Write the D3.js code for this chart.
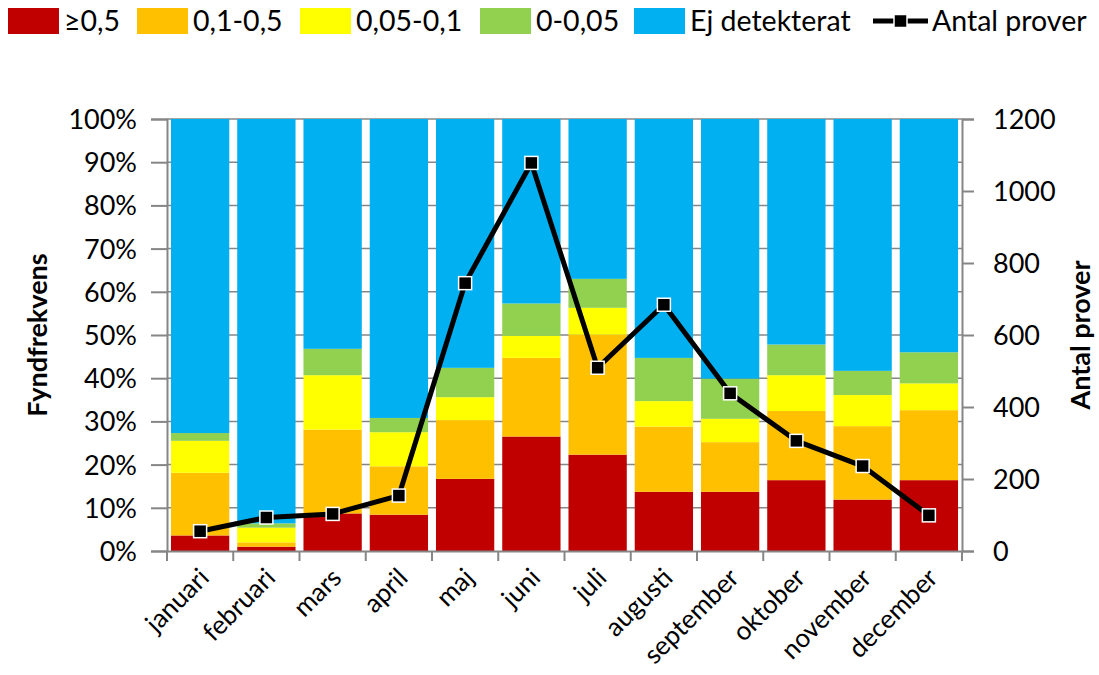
<!DOCTYPE html>
<html>
<head>
<meta charset="utf-8">
<script src="https://cdn.jsdelivr.net/npm/d3@7/dist/d3.min.js"></script>
<style>
  html, body { margin: 0; padding: 0; background: #fff; }
  svg { display: block; font-family: Lato, "Open Sans", sans-serif; }
</style>
</head>
<body>
<svg id="chart" width="1099" height="675"></svg>
<script>
// Months on the x axis
const months = ["januari","februari","mars","april","maj","juni","juli","augusti","september","oktober","november","december"];

// Share of samples per concentration class (%), bottom to top
const geHalf      = [3.6, 1.0, 8.7, 8.4, 16.7, 26.5, 22.3, 13.7, 13.7, 16.4, 11.9, 16.4];   // ≥0,5
const tenthToHalf = [14.5, 1.0, 19.4, 11.2, 13.6, 18.2, 27.8, 15.1, 11.5, 16.0, 17.0, 16.2]; // 0,1-0,5
const fiveToTenth = [7.4, 3.4, 12.6, 7.9, 5.3, 5.1, 6.2, 5.9, 5.4, 8.3, 7.2, 6.2];          // 0,05-0,1
const zeroToFive  = [1.8, 1.0, 6.1, 3.3, 6.8, 7.5, 6.7, 10.0, 9.3, 7.1, 5.6, 7.2];          // 0-0,05
const notDetected = months.map((m, i) => 100 - geHalf[i] - tenthToHalf[i] - fiveToTenth[i] - zeroToFive[i]); // Ej detekterat

// Number of samples per month (right axis)
const sampleCount = [55, 93, 103, 154, 744, 1078, 509, 684, 438, 306, 236, 99];

const seriesNames  = ["≥0,5", "0,1-0,5", "0,05-0,1", "0-0,05", "Ej detekterat"];
const seriesColors = ["#C00000", "#FFC000", "#FFFF00", "#92D050", "#00B0F0"];
const lineName = "Antal prover";

const leftTicks  = [0,10,20,30,40,50,60,70,80,90,100];
const rightTicks = [0,200,400,600,800,1000,1200];

const svg = d3.select("#chart");
const plotLeft = 167, plotRight = 962, plotTop = 119, plotBottom = 551;

const rows = months.map((m, i) => ({
  month: m,
  "≥0,5": geHalf[i],
  "0,1-0,5": tenthToHalf[i],
  "0,05-0,1": fiveToTenth[i],
  "0-0,05": zeroToFive[i],
  "Ej detekterat": notDetected[i]
}));

const x = d3.scaleBand().domain(months).range([plotLeft, plotRight]).paddingInner(0.12).paddingOuter(0.06);
const y = d3.scaleLinear().domain([0, 100]).range([plotBottom, plotTop]);
const y2 = d3.scaleLinear().domain([0, 1200]).range([plotBottom, plotTop]);
const color = d3.scaleOrdinal().domain(seriesNames).range(seriesColors);

const axisGray = "#868686";

// horizontal gridlines
svg.append("g").selectAll("line").data(leftTicks.slice(1)).join("line")
  .attr("x1", plotLeft).attr("x2", plotRight)
  .attr("y1", d => y(d)).attr("y2", d => y(d))
  .attr("stroke", axisGray).attr("stroke-width", 1.5);

// stacked bars
const stacked = d3.stack().keys(seriesNames)(rows);
svg.append("g").selectAll("g").data(stacked).join("g")
  .attr("fill", d => color(d.key))
  .selectAll("rect").data(d => d).join("rect")
  .attr("x", d => x(d.data.month))
  .attr("width", x.bandwidth())
  .attr("y", d => y(d[1]))
  .attr("height", d => y(d[0]) - y(d[1]));

// left axis
const yAxis = svg.append("g").attr("transform", `translate(${plotLeft},0)`)
  .call(d3.axisLeft(y).tickValues(leftTicks).tickFormat(d => d + "%").tickSize(16).tickPadding(14));
// right axis
const y2Axis = svg.append("g").attr("transform", `translate(${plotRight},0)`)
  .call(d3.axisRight(y2).tickValues(rightTicks).tickFormat(d3.format("d")).tickSize(12).tickPadding(19));
// bottom axis with ticks at category boundaries
const xAxis = svg.append("g").attr("transform", `translate(0,${plotBottom})`)
  .call(d3.axisBottom(x).tickSize(0).tickFormat(""));
const step = x.step();
const boundaries = d3.range(months.length + 1).map(i => plotLeft + i * step);
xAxis.selectAll(".bound").data(boundaries).join("line").attr("class", "bound")
  .attr("x1", d => d).attr("x2", d => d).attr("y1", 0).attr("y2", 10)
  .attr("stroke", axisGray).attr("stroke-width", 2);

[yAxis, y2Axis, xAxis].forEach(g => {
  g.selectAll(".domain").attr("stroke", axisGray).attr("stroke-width", 2);
  g.selectAll(".tick line").attr("stroke", axisGray).attr("stroke-width", 2);
  g.selectAll("text").attr("fill", "#000").style("font-size", "27px").style("font-family", "Lato, sans-serif");
});
yAxis.selectAll(".tick text").attr("dy", "0.35em");
y2Axis.selectAll(".tick text").attr("dy", "0.35em");

// month labels, rotated
svg.append("g").selectAll("text").data(months).join("text")
  .attr("transform", d => `translate(${x(d) + x.bandwidth() / 2 + 4},${plotBottom + 22}) rotate(-45)`)
  .attr("text-anchor", "end")
  .attr("dy", "0.35em")
  .style("font-size", "26px")
  .text(d => d);

// sample count line
const line = d3.line().x((d, i) => x(months[i]) + x.bandwidth() / 2).y(d => y2(d));
svg.append("path").datum(sampleCount)
  .attr("d", line).attr("fill", "none").attr("stroke", "#000")
  .attr("stroke-width", 5).attr("stroke-linejoin", "round");
svg.append("g").selectAll("rect").data(sampleCount).join("rect")
  .attr("x", (d, i) => x(months[i]) + x.bandwidth() / 2 - 6.5)
  .attr("y", d => y2(d) - 6.5)
  .attr("width", 13).attr("height", 13)
  .attr("fill", "#000").attr("stroke", "#fff").attr("stroke-width", 1.5);

// axis titles
svg.append("text")
  .attr("transform", `translate(47,${(plotTop + plotBottom) / 2}) rotate(-90)`)
  .attr("text-anchor", "middle")
  .style("font-size", "27px").style("font-weight", "bold")
  .text("Fyndfrekvens");
svg.append("text")
  .attr("transform", `translate(1090,${(plotTop + plotBottom) / 2}) rotate(-90)`)
  .attr("text-anchor", "middle")
  .style("font-size", "27px").style("font-weight", "bold")
  .text("Antal prover");

// legend
const legendX = [8, 137, 300, 480, 634];
const legend = svg.append("g");
seriesNames.forEach((name, i) => {
  legend.append("rect").attr("x", legendX[i]).attr("y", 8).attr("width", 51).attr("height", 26).attr("fill", color(name));
  legend.append("text").attr("x", legendX[i] + 56).attr("y", 21).attr("dy", "0.35em")
    .style("font-size", "28.5px").text(name);
});
legend.append("line").attr("x1", 873).attr("x2", 928).attr("y1", 21).attr("y2", 21)
  .attr("stroke", "#000").attr("stroke-width", 5);
legend.append("rect").attr("x", 894).attr("y", 14.5).attr("width", 13).attr("height", 13)
  .attr("fill", "#000").attr("stroke", "#fff").attr("stroke-width", 1.5);
legend.append("text").attr("x", 932).attr("y", 21).attr("dy", "0.35em")
  .style("font-size", "28.5px").text(lineName);
</script>
</body>
</html>
